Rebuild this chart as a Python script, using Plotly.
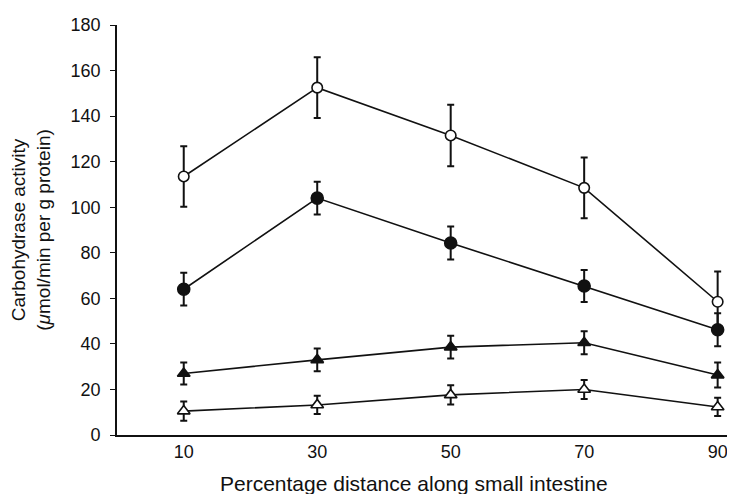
import plotly.graph_objects as go

distance = [10, 30, 50, 70, 90]

open_circle = [113.5, 152.5, 131.5, 108.5, 58.5]
open_circle_err = [13.3, 13.3, 13.5, 13.3, 13.3]

filled_circle = [64, 104, 84.3, 65.4, 46.2]
filled_circle_err = [7.2, 7.2, 7.2, 7.0, 7.2]

filled_triangle = [27, 33, 38.6, 40.5, 26.3]
filled_triangle_err = [4.8, 5.0, 5.0, 5.0, 5.5]

open_triangle = [10.5, 13.2, 17.6, 20, 12.3]
open_triangle_err = [4.2, 4.0, 4.2, 4.2, 4.0]

y_ticks = [0, 20, 40, 60, 80, 100, 120, 140, 160, 180]
x_ticks = [10, 30, 50, 70, 90]

x_title = "Percentage distance along small intestine"
y_title = "Carbohydrase activity<br>(<i>\u03bc</i>mol/min per g protein)"

BLACK = "#111111"

series = [
    (open_triangle, open_triangle_err, "triangle-up", 11, "white"),
    (filled_triangle, filled_triangle_err, "triangle-up", 11, BLACK),
    (filled_circle, filled_circle_err, "circle", 12, BLACK),
    (open_circle, open_circle_err, "circle", 10.5, "white"),
]

fig = go.Figure()
for vals, errs, sym, size, fill in series:
    fig.add_trace(go.Scatter(
        x=distance, y=vals,
        mode="lines+markers",
        line=dict(color=BLACK, width=1.6),
        marker=dict(symbol=sym, size=size, color=fill,
                    line=dict(color=BLACK, width=1.6)),
        error_y=dict(type="data", array=errs, visible=True,
                     color=BLACK, thickness=2, width=3.5),
        showlegend=False,
        cliponaxis=False,
    ))

font_family = "Liberation Sans, Arial, sans-serif"

# the page body adds an 8px margin, so the figure is sized to fit the window
fig.update_layout(
    width=727, height=486,
    margin=dict(l=109, r=0, t=17, b=59),
    paper_bgcolor="white", plot_bgcolor="white",
    font=dict(family=font_family, color=BLACK),
    xaxis=dict(
        range=[0, 92.6],
        tickvals=x_ticks,
        ticktext=[str(v) for v in x_ticks],
        ticks="", showgrid=False, zeroline=False,
        showline=True, linecolor=BLACK, linewidth=1.6,
        tickfont=dict(size=18, color=BLACK),
    ),
    yaxis=dict(
        range=[0, 180],
        tickvals=y_ticks,
        ticks="outside", ticklen=5, tickwidth=1.4, tickcolor=BLACK,
        showgrid=False, zeroline=False,
        showline=True, linecolor=BLACK, linewidth=1.6,
        tickfont=dict(size=18, color=BLACK),
        ticklabelstandoff=6,
        title=dict(text=y_title, font=dict(size=19, color=BLACK), standoff=16),
    ),
    annotations=[dict(
        text=x_title, xref="paper", yref="paper",
        x=0.481, y=-0.118, xanchor="center", yanchor="middle",
        showarrow=False, font=dict(size=21, color=BLACK),
    )],
)

fig.write_html("out.html")
